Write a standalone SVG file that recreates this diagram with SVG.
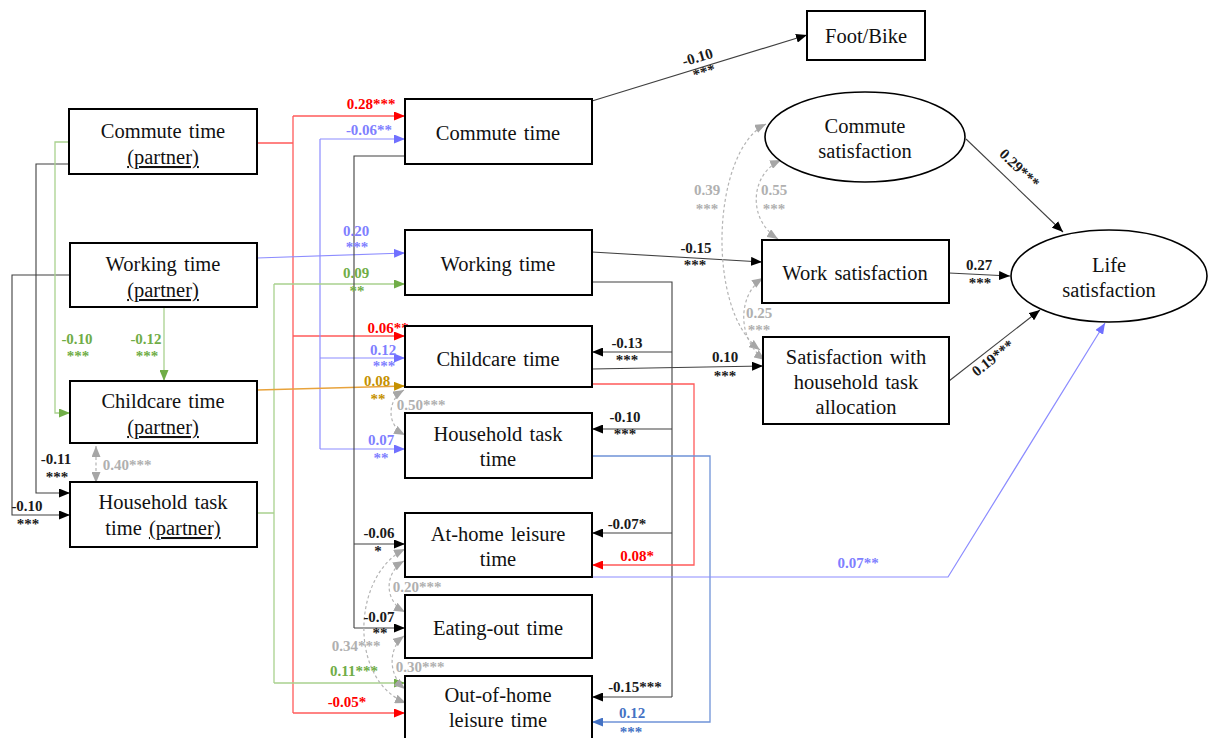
<svg xmlns="http://www.w3.org/2000/svg" width="1208" height="738" viewBox="0 0 1208 738">
  <style>
    .box { fill: #fff; stroke: #000; stroke-width: 2; }
    .ell { fill: #fff; stroke: #000; stroke-width: 1.6; }
    .nt { font-family: "Liberation Serif", "Times New Roman", serif; font-size: 20.5px; text-anchor: middle; fill: #111; word-spacing: 2px; }
    .u { text-decoration: underline; }
    .lb { font-family: "Liberation Serif", "Times New Roman", serif; font-size: 15px; font-weight: bold; text-anchor: middle; }
    .k { fill: #1a1a1a; }
    .r { fill: #ff0000; }
    .lbl { fill: #7f7fff; }
    .g { fill: #70ad47; }
    .o { fill: #c59100; }
    .mb { fill: #4472c4; }
    .gy { fill: #b0b0b0; }
    .ln { fill: none; }
    .lk { stroke: #404040; stroke-width: 1.1; }
    .lr { stroke: #ff5a5a; stroke-width: 1.3; }
    .llb { stroke: #8c8cff; stroke-width: 1.2; }
    .lg { stroke: #a9d18e; stroke-width: 1.3; }
    .lo { stroke: #e8a33c; stroke-width: 1.3; }
    .lmb { stroke: #6f93d8; stroke-width: 1.3; }
    .lgy { stroke: #b4b4b4; stroke-width: 1.2; stroke-dasharray: 3 2.5; }
  </style>
  <defs>
    <marker id="ak" viewBox="0 0 11 9" refX="11" refY="4.5" markerWidth="11" markerHeight="9" markerUnits="userSpaceOnUse" orient="auto"><path d="M0,0 L11,4.5 L0,9 z" fill="#000"/></marker>
    <marker id="ar" viewBox="0 0 11 9" refX="11" refY="4.5" markerWidth="11" markerHeight="9" markerUnits="userSpaceOnUse" orient="auto"><path d="M0,0 L11,4.5 L0,9 z" fill="#ff0000"/></marker>
    <marker id="alb" viewBox="0 0 11 9" refX="11" refY="4.5" markerWidth="11" markerHeight="9" markerUnits="userSpaceOnUse" orient="auto"><path d="M0,0 L11,4.5 L0,9 z" fill="#7070ff"/></marker>
    <marker id="ag" viewBox="0 0 11 9" refX="11" refY="4.5" markerWidth="11" markerHeight="9" markerUnits="userSpaceOnUse" orient="auto"><path d="M0,0 L11,4.5 L0,9 z" fill="#70ad47"/></marker>
    <marker id="ao" viewBox="0 0 11 9" refX="11" refY="4.5" markerWidth="11" markerHeight="9" markerUnits="userSpaceOnUse" orient="auto"><path d="M0,0 L11,4.5 L0,9 z" fill="#c59100"/></marker>
    <marker id="amb" viewBox="0 0 11 9" refX="11" refY="4.5" markerWidth="11" markerHeight="9" markerUnits="userSpaceOnUse" orient="auto"><path d="M0,0 L11,4.5 L0,9 z" fill="#4472c4"/></marker>
    <marker id="agy" viewBox="0 0 11 9" refX="11" refY="4.5" markerWidth="11" markerHeight="9" markerUnits="userSpaceOnUse" orient="auto-start-reverse"><path d="M0,0 L11,4.5 L0,9 z" fill="#a6a6a6"/></marker>
  </defs>

  <rect width="1208" height="738" fill="#fff"/>

  <g id="connectors">
    <!-- partner commute time (red) -->
    <path class="ln lr" d="M257,143 H293 M293,116 V713"/>
    <path class="ln lr" d="M293,116 H405" marker-end="url(#ar)"/>
    <path class="ln lr" d="M293,336 H405" marker-end="url(#ar)"/>
    <path class="ln lr" d="M293,713 H405" marker-end="url(#ar)"/>
    <!-- partner working time (light blue) -->
    <path class="ln llb" d="M257,258 L405,253" marker-end="url(#alb)"/>
    <path class="ln llb" d="M320,139 V449"/>
    <path class="ln llb" d="M320,139 H405" marker-end="url(#alb)"/>
    <path class="ln llb" d="M320,358 H405" marker-end="url(#alb)"/>
    <path class="ln llb" d="M320,449 H405" marker-end="url(#alb)"/>
    <!-- partner household task time (green) -->
    <path class="ln lg" d="M257,513 H274 M274,284 V683"/>
    <path class="ln lg" d="M274,284 H405" marker-end="url(#ag)"/>
    <path class="ln lg" d="M274,683 H405" marker-end="url(#ag)"/>
    <!-- partner childcare time (orange) -->
    <path class="ln lo" d="M257,390 L405,386" marker-end="url(#ao)"/>
    <!-- partner-to-partner paths -->
    <path class="ln lk" d="M69,164 H36 V493 H70" marker-end="url(#ak)"/>
    <path class="ln lk" d="M70,275 H12 V515 H70" marker-end="url(#ak)"/>
    <path class="ln lg" d="M69,142 H55 V413 H70" marker-end="url(#ag)"/>
    <path class="ln lg" d="M164,307 V381" marker-end="url(#ag)"/>
    <!-- commute time to leisure -->
    <path class="ln lk" d="M407,156 H354 V628"/>
    <path class="ln lk" d="M354,544 H405" marker-end="url(#ak)"/>
    <path class="ln lk" d="M354,628 H405" marker-end="url(#ak)"/>
    <!-- working time trunk -->
    <path class="ln lk" d="M592,282 H672 V697"/>
    <path class="ln lk" d="M672,352 H592" marker-end="url(#ak)"/>
    <path class="ln lk" d="M672,429 H592" marker-end="url(#ak)"/>
    <path class="ln lk" d="M672,533 H592" marker-end="url(#ak)"/>
    <path class="ln lk" d="M672,697 H592" marker-end="url(#ak)"/>
    <!-- childcare to at-home leisure -->
    <path class="ln lr" d="M592,384 H694 V565 H592" marker-end="url(#ar)"/>
    <!-- household task to out-of-home leisure -->
    <path class="ln lmb" d="M592,456 H710 V722 H592" marker-end="url(#amb)"/>
    <!-- at-home leisure to life satisfaction -->
    <path class="ln llb" d="M592,577 H948 L1105,323" marker-end="url(#alb)"/>
    <!-- right side paths -->
    <path class="ln lk" d="M592,101 L807,35" marker-end="url(#ak)"/>
    <path class="ln lk" d="M592,252 L762,262" marker-end="url(#ak)"/>
    <path class="ln lk" d="M592,369 L763,366" marker-end="url(#ak)"/>
    <path class="ln lk" d="M966,139 L1063,232" marker-end="url(#ak)"/>
    <path class="ln lk" d="M949,273 L1010,276" marker-end="url(#ak)"/>
    <path class="ln lk" d="M949,381 L1040,310" marker-end="url(#ak)"/>
    <!-- correlations -->
    <path class="ln lgy" d="M96,446 V483" marker-start="url(#agy)" marker-end="url(#agy)"/>
    <path class="ln lgy" d="M404,390 C387,400 386,425 405,435" marker-start="url(#agy)" marker-end="url(#agy)"/>
    <path class="ln lgy" d="M404,561 C385,572 383,600 405,612" marker-start="url(#agy)" marker-end="url(#agy)"/>
    <path class="ln lgy" d="M405,549 C352,575 348,680 406,703" marker-start="url(#agy)" marker-end="url(#agy)"/>
    <path class="ln lgy" d="M404,636 C388,648 388,675 405,689" marker-start="url(#agy)" marker-end="url(#agy)"/>
    <path class="ln lgy" d="M781,160 C749,175 748,220 778,239" marker-start="url(#agy)" marker-end="url(#agy)"/>
    <path class="ln lgy" d="M766,124 C712,150 705,310 760,350" marker-start="url(#agy)" marker-end="url(#agy)"/>
    <path class="ln lgy" d="M763,278 C737,295 737,340 765,360" marker-start="url(#agy)" marker-end="url(#agy)"/>
  </g>

  <g id="labels">
    <text class="lb r" x="371" y="109">0.28***</text>
    <text class="lb r" x="388" y="333">0.06**</text>
    <text class="lb r" x="347" y="707">-0.05*</text>
    <text class="lb r" x="637" y="561">0.08*</text>
    <text class="lb lbl" x="369" y="135">-0.06**</text>
    <text class="lb lbl" x="356" y="236">0.20</text>
    <text class="lb lbl" x="357" y="252">***</text>
    <text class="lb lbl" x="383" y="355">0.12</text>
    <text class="lb lbl" x="384" y="371">***</text>
    <text class="lb lbl" x="381" y="445">0.07</text>
    <text class="lb lbl" x="381" y="463">**</text>
    <text class="lb lbl" x="858" y="568">0.07**</text>
    <text class="lb g" x="356" y="278">0.09</text>
    <text class="lb g" x="357" y="296">**</text>
    <text class="lb g" x="354" y="676">0.11***</text>
    <text class="lb g" x="77" y="344">-0.10</text>
    <text class="lb g" x="78" y="361">***</text>
    <text class="lb g" x="146" y="344">-0.12</text>
    <text class="lb g" x="147" y="361">***</text>
    <text class="lb o" x="377" y="386">0.08</text>
    <text class="lb o" x="378" y="404">**</text>
    <text class="lb mb" x="632" y="718">0.12</text>
    <text class="lb mb" x="631" y="737">***</text>
    <text class="lb gy" x="127" y="470">0.40***</text>
    <text class="lb gy" x="421" y="410">0.50***</text>
    <text class="lb gy" x="417" y="592">0.20***</text>
    <text class="lb gy" x="356" y="651">0.34***</text>
    <text class="lb gy" x="420" y="672">0.30***</text>
    <text class="lb gy" x="707" y="195">0.39</text>
    <text class="lb gy" x="707" y="214">***</text>
    <text class="lb gy" x="774" y="195">0.55</text>
    <text class="lb gy" x="774" y="214">***</text>
    <text class="lb gy" x="759" y="318">0.25</text>
    <text class="lb gy" x="759" y="335">***</text>
    <text class="lb k" x="56" y="464">-0.11</text>
    <text class="lb k" x="57" y="482">***</text>
    <text class="lb k" x="27" y="511">-0.10</text>
    <text class="lb k" x="28" y="529">***</text>
    <text class="lb k" x="379" y="538">-0.06</text>
    <text class="lb k" x="378" y="556">*</text>
    <text class="lb k" x="379" y="622">-0.07</text>
    <text class="lb k" x="380" y="638">**</text>
    <text class="lb k" x="696" y="253">-0.15</text>
    <text class="lb k" x="695" y="270">***</text>
    <text class="lb k" x="627" y="348">-0.13</text>
    <text class="lb k" x="627" y="365">***</text>
    <text class="lb k" x="725" y="362">0.10</text>
    <text class="lb k" x="725" y="381">***</text>
    <text class="lb k" x="625" y="422">-0.10</text>
    <text class="lb k" x="625" y="439">***</text>
    <text class="lb k" x="627" y="529">-0.07*</text>
    <text class="lb k" x="635" y="692">-0.15***</text>
    <text class="lb k" x="979" y="270">0.27</text>
    <text class="lb k" x="980" y="288">***</text>
    <g transform="translate(699,62) rotate(-17)">
      <text class="lb k" x="0" y="0">-0.10</text>
      <text class="lb k" x="2" y="16">***</text>
    </g>
    <text class="lb k" transform="translate(1016,172) rotate(44)">0.29***</text>
    <text class="lb k" transform="translate(996,362) rotate(-38)">0.19***</text>
  </g>

  <g id="n-commute-partner">
    <rect class="box" x="69" y="109" width="188" height="65"/>
    <text class="nt" x="163" y="138">Commute time</text>
    <text class="nt" x="163" y="164"><tspan class="u">(partner)</tspan></text>
  </g>
  <g id="n-working-partner">
    <rect class="box" x="70" y="243" width="187" height="64"/>
    <text class="nt" x="163" y="271">Working time</text>
    <text class="nt" x="163" y="297"><tspan class="u">(partner)</tspan></text>
  </g>
  <g id="n-childcare-partner">
    <rect class="box" x="70" y="381" width="187" height="62"/>
    <text class="nt" x="163" y="408">Childcare time</text>
    <text class="nt" x="163" y="434"><tspan class="u">(partner)</tspan></text>
  </g>
  <g id="n-household-partner">
    <rect class="box" x="70" y="482" width="187" height="65"/>
    <text class="nt" x="163" y="509">Household task</text>
    <text class="nt" x="163" y="535">time <tspan class="u">(partner)</tspan></text>
  </g>

  <g id="n-commute">
    <rect class="box" x="405" y="99" width="187" height="65"/>
    <text class="nt" x="498" y="140">Commute time</text>
  </g>
  <g id="n-working">
    <rect class="box" x="405" y="230" width="187" height="65"/>
    <text class="nt" x="498" y="271">Working time</text>
  </g>
  <g id="n-childcare">
    <rect class="box" x="405" y="326" width="187" height="61"/>
    <text class="nt" x="498" y="366">Childcare time</text>
  </g>
  <g id="n-household">
    <rect class="box" x="405" y="413" width="187" height="65"/>
    <text class="nt" x="498" y="441">Household task</text>
    <text class="nt" x="498" y="466">time</text>
  </g>
  <g id="n-athome">
    <rect class="box" x="405" y="513" width="187" height="64"/>
    <text class="nt" x="498" y="541">At-home leisure</text>
    <text class="nt" x="498" y="566">time</text>
  </g>
  <g id="n-eatingout">
    <rect class="box" x="405" y="595" width="187" height="63"/>
    <text class="nt" x="498" y="635">Eating-out time</text>
  </g>
  <g id="n-outofhome">
    <rect class="box" x="405" y="676" width="187" height="66"/>
    <text class="nt" x="498" y="702">Out-of-home</text>
    <text class="nt" x="498" y="727">leisure time</text>
  </g>

  <g id="n-footbike">
    <rect class="box" x="807" y="11" width="118" height="49"/>
    <text class="nt" x="866" y="43">Foot/Bike</text>
  </g>
  <g id="n-commute-sat">
    <ellipse class="ell" cx="865" cy="137" rx="100" ry="45"/>
    <text class="nt" x="865" y="133">Commute</text>
    <text class="nt" x="865" y="158">satisfaction</text>
  </g>
  <g id="n-work-sat">
    <rect class="box" x="762" y="240" width="187" height="63"/>
    <text class="nt" x="855" y="280">Work satisfaction</text>
  </g>
  <g id="n-household-sat">
    <rect class="box" x="763" y="337" width="186" height="87"/>
    <text class="nt" x="856" y="364">Satisfaction with</text>
    <text class="nt" x="856" y="389">household task</text>
    <text class="nt" x="856" y="414">allocation</text>
  </g>
  <g id="n-life-sat">
    <ellipse class="ell" cx="1109" cy="276" rx="98" ry="46"/>
    <text class="nt" x="1109" y="272">Life</text>
    <text class="nt" x="1109" y="297">satisfaction</text>
  </g>
</svg>
